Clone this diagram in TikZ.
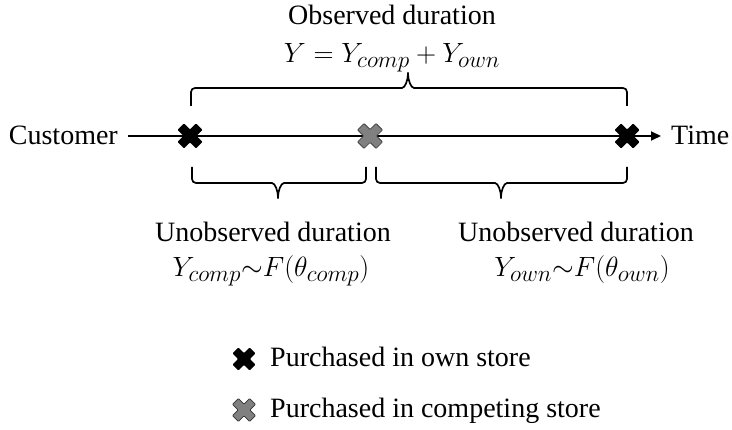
\documentclass[tikz,border=0pt]{standalone}
\usepackage{graphicx}
\usepackage{fontspec}
\setmainfont{Liberation Serif}
\usetikzlibrary{arrows.meta}

\tikzset{
  pics/buymark/.style={code={
    \path[pic actions] (6.5,0) -- (12.5,6) -- (6,12.5) -- (0,6.5) -- (-6,12.5)
      -- (-12.5,6) -- (-6.5,0) -- (-12.5,-6) -- (-6,-12.5) -- (0,-6.5)
      -- (6,-12.5) -- (12.5,-6) -- cycle;
  }}
}
\newcommand{\bigeq}[1]{\scalebox{1.12}{$#1$}}

\begin{document}
\begin{tikzpicture}[x=1pt, y=-1pt, >={Triangle[length=10pt, width=9pt]},
    lbl/.style={inner sep=0pt, font=\fontsize{28}{32}\selectfont},
    ownmark/.style={fill=black, rounded corners=0.8pt},
    compmark/.style={fill=black!50, draw=black!80, line width=0.7pt, rounded corners=0.8pt},
    bracket/.style={line width=1.7pt, rounded corners=4pt}]
  \useasboundingbox (0,0) rectangle (732,430);

  % time line
  \node[lbl, anchor=base east] (cust) at (118,145) {Customer};
  \node[lbl, anchor=base west] (time) at (671,145) {Time};
  \coordinate (tbeg) at (128,136);
  \coordinate (tend) at (661,136);
  \draw[->, line width=2pt] (tbeg) -- (tend);
  \pic[ownmark] at (190,136) {buymark};
  \pic[compmark] at (370,136) {buymark};
  \pic[ownmark] at (627,136) {buymark};

  % observed duration
  \draw[bracket] (191,106) -- (191,88) -- (398,88)
    .. controls (405,88) and (408,80) .. (408,70)
    .. controls (408,80) and (411,88) .. (418,88) -- (627,88) -- (627,106);
  \node[lbl, anchor=base] (obs) at (392,25) {Observed duration};
  \node[lbl, anchor=base] (obsy) at (392,63) {\bigeq{Y = Y_{comp} + Y_{own}}};

  % unobserved durations
  \draw[bracket] (192,167) -- (192,183) -- (268,183)
    .. controls (275,183) and (278,191) .. (278,201)
    .. controls (278,191) and (281,183) .. (288,183) -- (366,183) -- (366,167);
  \draw[bracket] (376,167) -- (376,183) -- (491,183)
    .. controls (498,183) and (501,191) .. (501,201)
    .. controls (501,191) and (504,183) .. (511,183) -- (627,183) -- (627,167);
  \node[lbl, anchor=base] (unobsc) at (273,242) {Unobserved duration};
  \node[lbl, anchor=base] (unobscy) at (271,277) {\bigeq{Y_{comp}{\sim}F(\theta_{comp})}};
  \node[lbl, anchor=base] (unobso) at (576,242) {Unobserved duration};
  \node[lbl, anchor=base] (unobsoy) at (582,277) {\bigeq{Y_{own}{\sim}F(\theta_{own})}};

  % legend
  \pic[ownmark, scale=0.92] at (244,359) {buymark};
  \node[lbl, anchor=base west] (keyown) at (270,367) {Purchased in own store};
  \pic[compmark, scale=0.92] at (244,410) {buymark};
  \node[lbl, anchor=base west] (keycomp) at (270,418) {Purchased in competing store};
\end{tikzpicture}
\end{document}
